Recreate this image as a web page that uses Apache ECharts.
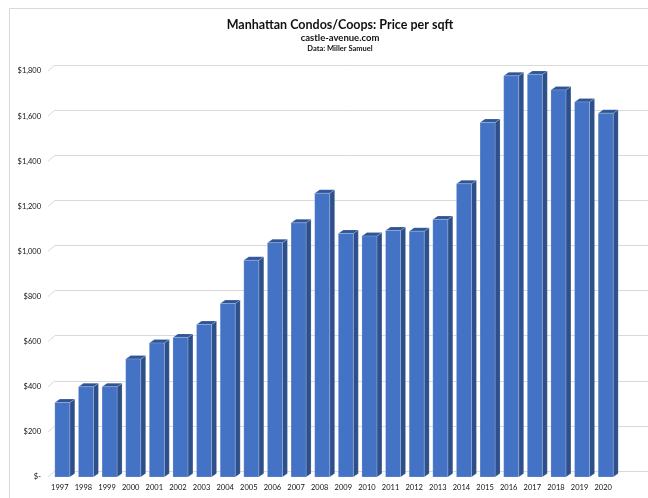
<!DOCTYPE html>
<html>
<head>
<meta charset="utf-8">
<script src="https://cdn.jsdelivr.net/npm/echarts@6/dist/echarts.min.js"></script>
<style>
  html, body { margin: 0; padding: 0; background: #fff; }
  #chart { width: 648px; height: 498px; }
</style>
</head>
<body>
<div id="chart"></div>
<script>
// Manhattan condo/co-op average price per square foot, by year
const years = ['1997','1998','1999','2000','2001','2002','2003','2004','2005','2006','2007','2008',
               '2009','2010','2011','2012','2013','2014','2015','2016','2017','2018','2019','2020'];
const pricePerSqft = [330, 400, 400, 523, 594, 619, 676, 769, 961, 1039, 1127, 1258,
                      1080, 1068, 1093, 1090, 1142, 1300, 1572, 1779, 1785, 1716, 1663, 1613];
const yTicks = [0, 200, 400, 600, 800, 1000, 1200, 1400, 1600, 1800];

const titleText = 'Manhattan Condos/Coops: Price per sqft';
const subtitleText = 'castle-avenue.com';
const sourceText = 'Data: Miller Samuel';

const FONT = 'Lato';
const DEPTH_X = 5, DEPTH_Y = 3.5;   // oblique depth of each column
const FACE_W = 15;                  // width of a column's front face
const WALL_X = 7, WALL_Y = 6;       // offset of the back wall from the front plane

function money(v) {
  if (v === 0) return '$-';
  return '$' + v.toLocaleString('en-US');
}

const chart = echarts.init(document.getElementById('chart'), null, { renderer: 'canvas' });

const option = {
  animation: false,
  backgroundColor: '#ffffff',
  graphic: [
    // chart-area frame
    { type: 'rect', silent: true, z: -10,
      shape: { x: 9.5, y: 8.5, width: 700, height: 600 },
      style: { fill: 'none', stroke: '#d9d9d9', lineWidth: 1 } }
  ],
  title: [
    { text: titleText, left: 335, top: 13, textAlign: 'center',
      textStyle: { fontFamily: FONT, fontWeight: 'bold', fontSize: 12.5, color: '#111' } },
    { text: subtitleText, left: 335, top: 28, textAlign: 'center',
      textStyle: { fontFamily: FONT, fontWeight: 'bold', fontSize: 9.5, color: '#111' } },
    { text: sourceText, left: 335, top: 40, textAlign: 'center',
      textStyle: { fontFamily: FONT, fontWeight: 'bold', fontSize: 7.5, color: '#111' } }
  ],
  grid: [
    // front plane: axis labels and columns
    { left: 48, right: 33, top: 71, bottom: 21 },
    // back wall: gridlines
    { left: 48 + WALL_X, right: 0, top: 71 - WALL_Y, bottom: 21 + WALL_Y }
  ],
  xAxis: [
    { type: 'category', gridIndex: 0, data: years,
      axisLine: { show: false }, axisTick: { show: false },
      axisLabel: { fontFamily: FONT, fontSize: 7.5, color: '#111', margin: 7, interval: 0 } },
    { type: 'category', gridIndex: 1, data: years, show: false }
  ],
  yAxis: [
    { type: 'value', gridIndex: 0, min: 0, max: 1800, interval: 200,
      axisLine: { show: false }, axisTick: { show: false }, splitLine: { show: false },
      axisLabel: { fontFamily: FONT, fontSize: 7.5, color: '#111', margin: 7, formatter: money } },
    { type: 'value', gridIndex: 1, min: 0, max: 1800, interval: 200,
      axisLine: { show: false }, axisTick: { show: false }, axisLabel: { show: false },
      splitLine: { show: true, lineStyle: { color: '#d9d9d9', width: 1 } } }
  ],
  series: [
    {
      // short diagonal links from the front axis to the back-wall gridlines
      type: 'custom', xAxisIndex: 0, yAxisIndex: 0, z: 1, silent: true,
      data: yTicks.map(v => [years[0], v]),
      encode: { x: 0, y: 1 },
      renderItem: function (params, api) {
        const cs = params.coordSys;
        const y = api.coord([api.value(0), api.value(1)])[1];
        return {
          type: 'line',
          shape: { x1: cs.x, y1: y, x2: cs.x + WALL_X, y2: y - WALL_Y },
          style: { stroke: '#d9d9d9', lineWidth: 1 }
        };
      }
    },
    {
      // columns drawn with a front face, a shaded side and a top
      type: 'custom', xAxisIndex: 0, yAxisIndex: 0, z: 5,
      data: years.map((y, i) => [y, pricePerSqft[i]]),
      encode: { x: 0, y: 1 },
      renderItem: function (params, api) {
        const top = api.coord([api.value(0), api.value(1)]);
        const base = api.coord([api.value(0), 0]);
        const x0 = top[0] - FACE_W / 2 + 2.5;
        const x1 = x0 + FACE_W;
        const yt = top[1], yb = base[1];
        return {
          type: 'group',
          children: [
            { type: 'polygon',
              shape: { points: [[x1, yt], [x1 + DEPTH_X, yt - DEPTH_Y], [x1 + DEPTH_X, yb - DEPTH_Y], [x1, yb]] },
              style: { fill: '#2d4f8a', stroke: 'rgba(255,255,255,0.35)', lineWidth: 0.5 } },
            { type: 'polygon',
              shape: { points: [[x0, yt], [x0 + DEPTH_X, yt - DEPTH_Y], [x1 + DEPTH_X, yt - DEPTH_Y], [x1, yt]] },
              style: { fill: '#2f5597', stroke: 'rgba(255,255,255,0.35)', lineWidth: 0.5 } },
            { type: 'rect',
              shape: { x: x0, y: yt, width: FACE_W, height: yb - yt },
              style: { fill: '#4472c4', stroke: 'rgba(255,255,255,0.35)', lineWidth: 0.5 } }
          ]
        };
      }
    }
  ]
};

chart.setOption(option);
</script>
</body>
</html>
